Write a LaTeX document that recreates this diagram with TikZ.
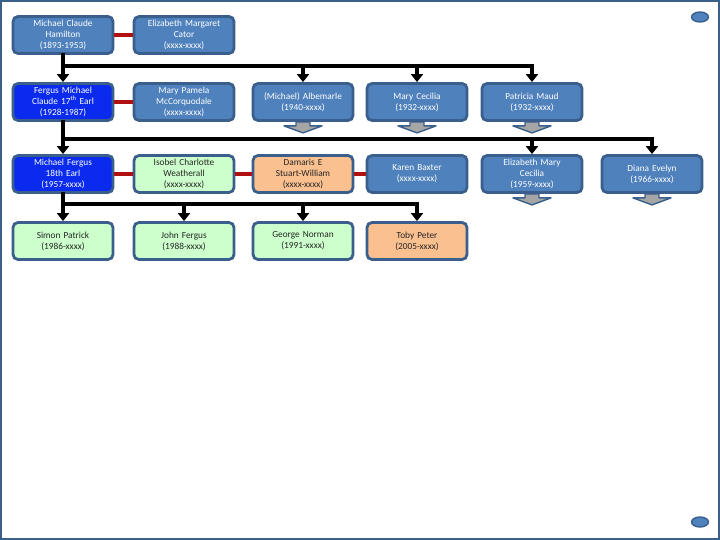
\documentclass[tikz,border=0pt]{standalone}
\usepackage{fontspec}
\setmainfont{Carlito}
\usetikzlibrary{arrows.meta}
\usetikzlibrary{shapes.geometric}
\definecolor{boxblue}{HTML}{4F81BD}
\definecolor{boxline}{HTML}{3A5F8C}
\definecolor{earlblue}{HTML}{0A2BEE}
\definecolor{kingreen}{HTML}{CCFFCC}
\definecolor{inlaworange}{HTML}{FAC090}
\definecolor{wedred}{HTML}{B01010}
\definecolor{moregray}{HTML}{A6A6A6}

\tikzset{
  person/.style={draw=boxline, line width=2.8pt, fill=boxblue, rounded corners=5pt,
    minimum width=100pt, minimum height=37pt, text width=98pt, inner sep=0pt,
    align=center, text=white, font=\fontsize{9.3}{11}\selectfont},
  earl/.style={person, fill=earlblue},
  kin/.style={person, fill=kingreen, text=black!85},
  inlaw/.style={person, fill=inlaworange, text=black!85},
  wed/.style={draw=wedred, line width=3.4pt},
  bar/.style={draw=black, line width=3.3pt, line cap=rect},
  kid/.style={bar, -{Triangle[width=12pt,length=8pt]}},
  more/.style={draw=boxline, fill=moregray, line width=1.4pt, line join=round},
  dot/.style={draw=boxline, fill=boxblue, line width=1.4pt, ellipse,
    minimum width=17pt, minimum height=10pt, inner sep=0pt}
}

% little grey arrow under a box that has more below it
\newcommand\moredown[1]{%
  \draw[more] (#1.south) ++(-7,0) -- ++(0,4) -- ++(-12,0) -- ++(19,7)
    -- ++(19,-7) -- ++(-12,0) -- ++(0,-4) -- cycle;}

\begin{document}
\begin{tikzpicture}[x=1pt, y=-1pt]
     \useasboundingbox (0,0) rectangle (720,540);
     \draw[draw=boxline, line width=2.4pt] (1,1) rectangle (719,539);

     \node[dot] (top dot) at (700, 17) {};
     \node[dot] (bottom dot) at (700, 522) {};

     % first generation
     \node[person] (hamilton)  at ( 63,  35) {Michael Claude\\Hamilton\\(1893-1953)};
     \node[person] (cator)     at (184,  35) {Elizabeth Margaret\\Cator\\(xxxx-xxxx)};

     % second generation
     \node[earl]   (fergus)    at ( 63, 102) {Fergus Michael\\Claude 17\textsuperscript{th} Earl\\(1928-1987)};
     \node[person] (mary p)    at (184, 102) {Mary Pamela\\McCorquodale\\(xxxx-xxxx)};
     \node[person] (albemarle) at (303, 102) {(Michael) Albemarle\\(1940-xxxx)};
     \node[person] (mary c)    at (417, 102) {Mary Cecilia\\(1932-xxxx)};
     \node[person] (patricia)  at (532, 102) {Patricia Maud\\(1932-xxxx)};

     % third generation
     \node[earl]   (michael)   at ( 63, 174) {Michael Fergus\\18th Earl\\(1957-xxxx)};
     \node[kin]    (isobel)    at (184, 174) {Isobel Charlotte\\Weatherall\\(xxxx-xxxx)};
     \node[inlaw]  (damaris)   at (303, 174) {Damaris E\\Stuart-William\\(xxxx-xxxx)};
     \node[person] (karen)     at (417, 174) {Karen Baxter\\(xxxx-xxxx)};
     \node[person] (eliz m)    at (532, 174) {Elizabeth Mary\\Cecilia\\(1959-xxxx)};
     \node[person] (diana)     at (652, 174) {Diana Evelyn\\(1966-xxxx)};

     % fourth generation
     \node[kin]    (simon)     at ( 63, 241) {Simon Patrick\\(1986-xxxx)};
     \node[kin]    (john)      at (184, 241) {John Fergus\\(1988-xxxx)};
     \node[kin]    (george)    at (303, 241) {George Norman\\(1991-xxxx)};
     \node[inlaw]  (toby)      at (417, 241) {Toby Peter\\(2005-xxxx)};

     % marriages
     \draw[wed] (hamilton) -- (cator);
     \draw[wed] (fergus) -- (mary p);
     \draw[wed] (michael) -- (isobel);
     \draw[wed] (isobel) -- (damaris);
     \draw[wed] (damaris) -- (karen);

     % children
     \coordinate (bar1) at (63, 66);
     \coordinate (bar2) at (63, 139);
     \coordinate (bar3) at (63, 204);

     \draw[bar] (bar1) -- (patricia |- bar1);
     \draw[kid] (hamilton) -- (fergus);
     \draw[kid] (albemarle |- bar1) -- (albemarle);
     \draw[kid] (mary c |- bar1) -- (mary c);
     \draw[kid] (patricia |- bar1) -- (patricia);

     \draw[bar] (bar2) -- (diana |- bar2);
     \draw[kid] (fergus) -- (michael);
     \draw[kid] (eliz m |- bar2) -- (eliz m);
     \draw[kid] (diana |- bar2) -- (diana);

     \draw[bar] (bar3) -- (toby |- bar3);
     \draw[kid] (michael) -- (simon);
     \draw[kid] (john |- bar3) -- (john);
     \draw[kid] (george |- bar3) -- (george);
     \draw[kid] (toby |- bar3) -- (toby);

     \moredown{albemarle}
     \moredown{mary c}
     \moredown{patricia}
     \moredown{eliz m}
     \moredown{diana}
   \end{tikzpicture}
\end{document}
